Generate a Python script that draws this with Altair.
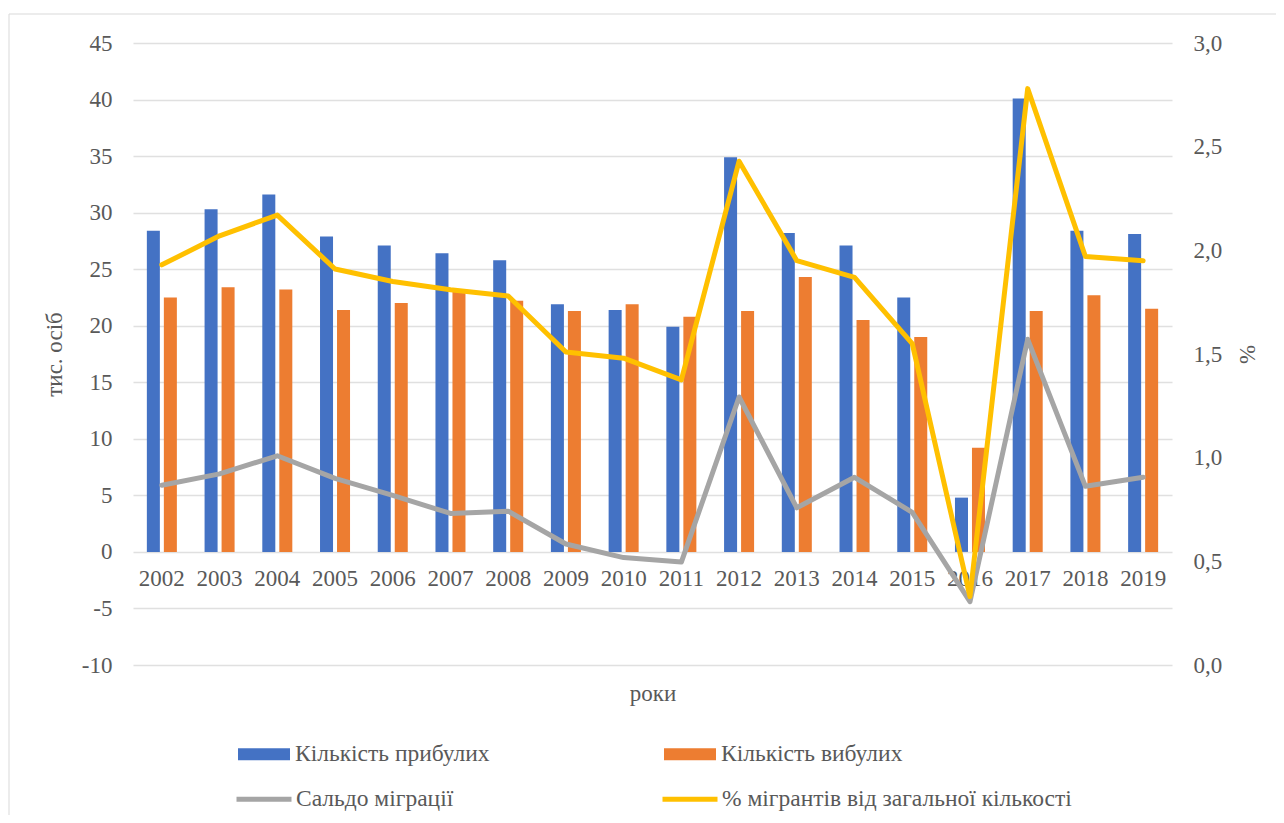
import altair as alt
import pandas as pd

years = [str(y) for y in range(2002, 2020)]
arrivals = [28.4, 30.3, 31.6, 27.9, 27.1, 26.4, 25.8, 21.9, 21.4, 19.9, 34.9, 28.2, 27.1, 22.5, 4.8, 40.1, 28.4, 28.1]
departures = [22.5, 23.4, 23.2, 21.4, 22.0, 23.0, 22.2, 21.3, 21.9, 20.8, 21.3, 24.3, 20.5, 19.0, 9.2, 21.3, 22.7, 21.5]
saldo = [5.9, 6.9, 8.5, 6.5, 5.0, 3.4, 3.6, 0.7, -0.5, -0.9, 13.7, 3.9, 6.6, 3.5, -4.4, 18.8, 5.8, 6.6]
pct = [1.93, 2.07, 2.17, 1.91, 1.85, 1.81, 1.78, 1.51, 1.48, 1.375, 2.43, 1.95, 1.87, 1.55, 0.33, 2.78, 1.97, 1.95]

bar_series = ["Кількість прибулих", "Кількість вибулих"]
line_series = ["Сальдо міграції", "% мігрантів від загальної кількості"]
left_ticks = list(range(-10, 50, 5))
right_ticks = [0.0, 0.5, 1.0, 1.5, 2.0, 2.5, 3.0]

FONT = "Liberation Serif"
TXT = "#595959"
FS = 23
LFS = 23.5

bars_df = pd.DataFrame({
    "year": years * 2,
    "series": [bar_series[0]] * len(years) + [bar_series[1]] * len(years),
    "value": arrivals + departures,
})
saldo_df = pd.DataFrame({"year": years, "series": line_series[0], "value": saldo})
pct_df = pd.DataFrame({"year": years, "series": line_series[1], "value": pct})
frame_df = pd.DataFrame({"k": [0]})

x_scale = alt.Scale(paddingInner=0.48, paddingOuter=0.24)
x_axis = alt.Axis(
    title="роки", orient="bottom", offset=-113, domain=False, ticks=False, grid=False,
    labelAngle=0, labelFont=FONT, labelFontSize=FS, labelColor=TXT, labelPadding=15,
    titleFont=FONT, titleFontSize=FS, titleFontWeight="normal", titleColor=TXT,
    titleY=148, titleBaseline="alphabetic",
)
left_scale = alt.Scale(domain=[-10, 45], nice=False, zero=False)
left_axis = alt.Axis(
    title="тис. осіб", values=left_ticks, grid=True, gridColor="#e0e0e0", gridWidth=1.3,
    labelExpr="toString(datum.value)",
    domain=False, ticks=False, labelFont=FONT, labelFontSize=FS, labelColor=TXT, labelPadding=21,
    titleFont=FONT, titleFontSize=FS, titleFontWeight="normal", titleColor=TXT,
    titleX=-79, titleY=311, titleAngle=270, titleAlign="center", titleBaseline="middle",
)
right_axis = alt.Axis(
    title="%", orient="right", values=right_ticks, grid=False, domain=False, ticks=False,
    labelExpr="replace(format(datum.value, '.1f'), '.', ',')",
    labelFont=FONT, labelFontSize=FS, labelColor=TXT, labelPadding=21,
    titleFont=FONT, titleFontSize=FS, titleFontWeight="normal", titleColor=TXT,
    titleX=75, titleY=311, titleAngle=270, titleAlign="center", titleBaseline="middle",
)

bar_legend = alt.Legend(
    title=None, orient="none", legendX=105, legendY=685, direction="horizontal", columns=2,
    columnPadding=174, symbolType="M-1,-0.23H1V0.23H-1Z", symbolSize=2704, symbolStrokeWidth=0,
    labelFont=FONT, labelFontSize=LFS, labelColor=TXT, labelOffset=5, labelLimit=600,
)
line_legend = alt.Legend(
    title=None, orient="none", legendX=101, legendY=726, direction="horizontal", columns=2,
    columnPadding=198, symbolType="stroke", symbolSize=3025, symbolStrokeWidth=5,
    labelFont=FONT, labelFontSize=LFS, labelColor=TXT, labelOffset=2, labelLimit=600,
)

frame = alt.Chart(frame_df).mark_rect(fill="transparent", stroke="#d9d9d9", strokeWidth=1).encode(
    x=alt.value(-124), x2=alt.value(1150), y=alt.value(-29), y2=alt.value(820)
)

bars = alt.Chart(bars_df).mark_bar().encode(
    x=alt.X("year:N", scale=x_scale, axis=x_axis, sort=years),
    xOffset=alt.XOffset("series:N", sort=bar_series, scale=alt.Scale(paddingInner=0.235)),
    y=alt.Y("value:Q", scale=left_scale, axis=left_axis),
    color=alt.Color("series:N", scale=alt.Scale(domain=bar_series, range=["#4472C4", "#ED7D31"]),
                    legend=bar_legend),
)

stroke_scale = alt.Scale(domain=line_series, range=["#A5A5A5", "#FFC000"])

grey = alt.Chart(saldo_df).mark_line(strokeWidth=5, strokeJoin="round", strokeCap="round").encode(
    x=alt.X("year:N", scale=x_scale, axis=x_axis, sort=years),
    y=alt.Y("value:Q", scale=left_scale, axis=left_axis),
    stroke=alt.Stroke("series:N", scale=stroke_scale, legend=line_legend),
)

left_layer = alt.layer(bars, grey)

yellow = alt.Chart(pct_df).mark_line(strokeWidth=5, strokeJoin="round", strokeCap="round").encode(
    x=alt.X("year:N", scale=x_scale, axis=x_axis, sort=years),
    y=alt.Y("value:Q", scale=alt.Scale(domain=[0, 3], nice=False, zero=False), axis=right_axis),
    stroke=alt.Stroke("series:N", scale=stroke_scale, legend=line_legend),
)

chart = alt.layer(frame, left_layer, yellow).resolve_scale(y="independent").properties(
    width=1039, height=622,
    autosize=alt.AutoSizeParams(type="none"),
    padding={"left": 125, "top": 35, "right": 104, "bottom": 150},
    background="white",
).configure_view(stroke=None)

chart.save("out.html", embed_options={"renderer": "svg", "actions": False})
